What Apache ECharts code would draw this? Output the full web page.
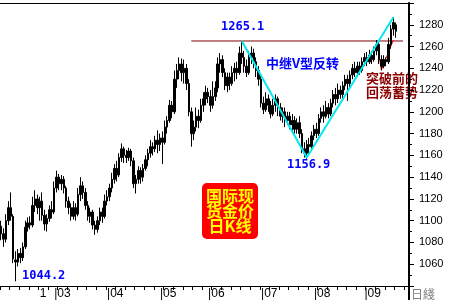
<!DOCTYPE html>
<html><head><meta charset="utf-8">
<script src="https://cdn.jsdelivr.net/npm/echarts@6/dist/echarts.min.js"></script>
<style>html,body{margin:0;padding:0;background:#fff}#c{width:450px;height:300px}</style>
</head><body><div id="c"></div>
<script>
// [open, close, low, high] daily gold candles
const candles = [
[1095,1088,1082,1100],[1088,1083,1076,1093],[1083,1100,1080,1106],[1100,1112,1096,1118],[1112,1104,1100,1126],
[1104,1065,1061,1106],[1064,1062,1044.2,1072],[1062,1070,1058,1074],[1070,1066,1061,1075],[1066,1076,1063,1080],
[1076,1094,1074,1100],[1094,1098,1090,1103],[1098,1096,1092,1104],[1096,1114,1094,1122],[1114,1120,1108,1128],
[1120,1112,1106,1124],[1112,1118,1100,1122],[1118,1105,1100,1126],[1105,1097,1091,1110],[1097,1102,1090,1106],
[1102,1110,1099,1114],[1110,1108,1102,1118],[1108,1130,1106,1136],[1130,1140,1126,1146],[1140,1134,1128,1143],
[1134,1138,1128,1142],[1138,1130,1125,1141],[1130,1118,1112,1132],[1118,1112,1106,1122],[1112,1104,1100,1116],
[1104,1112,1101,1118],[1112,1106,1100,1116],[1106,1124,1104,1130],[1124,1132,1118,1140],[1132,1126,1120,1136],
[1126,1114,1110,1130],[1114,1104,1100,1118],[1104,1108,1098,1112],[1108,1096,1092,1110],[1096,1092,1087,1100],
[1092,1100,1089,1104],[1100,1108,1096,1112],[1108,1104,1098,1112],[1104,1118,1102,1124],[1118,1122,1114,1128],
[1122,1130,1118,1134],[1130,1138,1126,1144],[1138,1148,1134,1152],[1148,1142,1136,1155],[1142,1158,1140,1162],
[1158,1166,1154,1171],[1166,1160,1153,1168],[1160,1158,1153,1165],[1158,1164,1155,1167],[1164,1155,1150,1166],
[1155,1134,1130,1158],[1134,1138,1125,1142],[1138,1146,1134,1150],[1146,1140,1134,1149],[1140,1148,1136,1152],
[1148,1156,1146,1160],[1156,1162,1150,1166],[1162,1168,1158,1174],[1168,1166,1160,1172],[1166,1174,1163,1178],
[1174,1170,1162,1183],[1170,1176,1164,1180],[1176,1172,1152,1182],[1172,1186,1170,1192],[1186,1192,1180,1196],
[1192,1206,1190,1211],[1206,1200,1194,1210],[1200,1230,1198,1238],[1230,1238,1222,1244],[1238,1244,1230,1250],
[1244,1236,1228,1249],[1236,1240,1226,1248],[1240,1226,1220,1244],[1226,1200,1196,1230],[1200,1180,1168,1204],
[1180,1186,1174,1192],[1186,1196,1182,1204],[1196,1192,1185,1202],[1192,1206,1190,1212],[1206,1212,1200,1218],
[1212,1218,1206,1224],[1218,1214,1208,1222],[1214,1206,1200,1220],[1206,1214,1203,1228],[1214,1222,1210,1228],
[1222,1244,1218,1250],[1244,1248,1236,1254],[1248,1236,1232,1252],[1236,1224,1220,1240],[1224,1232,1218,1236],
[1232,1226,1220,1236],[1226,1236,1224,1242],[1236,1240,1228,1245],[1240,1236,1230,1246],[1236,1254,1234,1260],
[1254,1250,1244,1265.1],[1250,1242,1236,1256],[1242,1236,1232,1248],[1236,1250,1234,1256],[1250,1254,1244,1260],
[1254,1246,1240,1258],[1246,1238,1232,1250],[1238,1230,1224,1242],[1230,1208,1204,1234],[1208,1202,1198,1214],
[1202,1212,1200,1218],[1212,1206,1200,1216],[1206,1198,1194,1210],[1198,1206,1196,1212],[1206,1212,1200,1216],
[1212,1204,1196,1214],[1204,1196,1192,1208],[1196,1200,1190,1204],[1200,1192,1186,1204],[1192,1196,1188,1200],
[1196,1188,1184,1200],[1188,1192,1182,1198],[1192,1184,1180,1196],[1184,1190,1180,1194],[1190,1180,1176,1196],
[1180,1166,1162,1184],[1166,1162,1158,1172],[1162,1170,1156.9,1174],[1170,1168,1162,1176],[1168,1178,1164,1182],
[1178,1184,1174,1188],[1184,1180,1176,1190],[1180,1194,1178,1198],[1194,1200,1190,1204],[1200,1196,1190,1206],
[1196,1204,1194,1210],[1204,1198,1194,1208],[1198,1208,1196,1212],[1208,1216,1204,1220],[1216,1212,1206,1222],
[1212,1220,1208,1226],[1220,1216,1212,1224],[1216,1224,1210,1228],[1224,1230,1220,1234],[1230,1226,1210,1234],
[1226,1234,1222,1238],[1234,1240,1230,1244],[1240,1236,1232,1246],[1236,1242,1232,1246],[1242,1238,1234,1246],
[1238,1246,1236,1250],[1246,1250,1242,1254],[1250,1246,1242,1255],[1246,1252,1244,1257],[1252,1248,1244,1256],
[1248,1256,1246,1260],[1256,1262,1252,1266],[1262,1248,1244,1264],[1248,1242,1238,1252],[1242,1248,1240,1252],
[1248,1246,1242,1250],[1246,1262,1244,1268],[1262,1276,1258,1280],[1276,1282,1270,1287],[1280,1274,1268,1282]
];
const slotCount = 170;
const monthLabels = {16:'1',22:'|03',44:'|04',66:'|05',86:'|06',108:'|07',130:'|08',151:'|09'};
const yMin = 1040, yMax = 1300, yStep = 20;
const vLine = [[100,1265.1],[127,1158],[163,1287]];
const pullbackLine = [[156,1266],[158,1238.4],[163,1266]];
const resistLine = [[79,1265.1],[167,1265.1]];
const peakLabel = '1265.1', lowLabel = '1156.9', startLowLabel = '1044.2';

const cats = Array.from({length: slotCount}, (_, i) => String(i));
const chart = echarts.init(document.getElementById('c'), null, {renderer: 'canvas'});
const blue = '#0000ff';
chart.setOption({
  animation: false,
  backgroundColor: '#fff',
  grid: {left: 0, right: 41, top: 3, bottom: 14},
  xAxis: [{
    type: 'category', data: cats, boundaryGap: true, position: 'bottom',
    axisLine: {lineStyle: {color: '#000', width: 1}},
    axisTick: {show: true, length: 4, interval: (i) => i % 4 === 0, lineStyle: {color: '#000'}},
    axisLabel: {interval: (i) => monthLabels[i] !== undefined, formatter: (v, i) => monthLabels[i] || '',
      align: 'left', margin: 2, color: '#000', fontSize: 12, fontFamily: 'Liberation Sans'},
    splitLine: {show: false}
  }, {
    type: 'category', data: cats, position: 'top',
    axisLine: {lineStyle: {color: '#000', width: 1}}, axisTick: {show: false}, axisLabel: {show: false}
  }],
  yAxis: {
    type: 'value', position: 'right', min: yMin, max: yMax, interval: yStep,
    axisLine: {show: true, lineStyle: {color: '#000', width: 2}},
    axisTick: {show: true, length: 5, lineStyle: {color: '#000'}},
    minorTick: {show: true, splitNumber: 2, length: 3, lineStyle: {color: '#000'}},
    axisLabel: {margin: 10, color: '#000', fontSize: 11, fontFamily: 'Liberation Sans',
      formatter: (v) => (v === yMin || v === yMax) ? '' : String(v)},
    splitLine: {show: false}
  },
  series: [{
    type: 'candlestick', data: candles, barWidth: 2,
    itemStyle: {color: '#000', color0: '#000', borderColor: '#000', borderColor0: '#000', borderWidth: 1}
  }, {
    type: 'line', data: resistLine, symbol: 'none', lineStyle: {color: '#800000', width: 1}, z: 1
  }, {
    type: 'line', data: vLine, symbol: 'none', lineStyle: {color: '#00e8f0', width: 2}, z: 3
  }, {
    type: 'line', data: pullbackLine, symbol: 'none', lineStyle: {color: '#ff0000', width: 1}, z: 1
  }],
  graphic: [
    {type: 'line', shape: {x1: 409, y1: 286, x2: 409, y2: 300}, style: {stroke: '#000', lineWidth: 2}},
    {type: 'text', x: 221, y: 21, style: {text: peakLabel, fill: blue, font: 'bold 12px "DejaVu Sans Mono"'}},
    {type: 'text', x: 287, y: 159, style: {text: lowLabel, fill: blue, font: 'bold 12px "DejaVu Sans Mono"'}},
    {type: 'text', x: 22, y: 270, style: {text: startLowLabel, fill: blue, font: 'bold 12px "DejaVu Sans Mono"'}},
    {type: 'text', x: 266, y: 57, style: {text: '中继V型反转', fill: blue, font: 'bold 13px "Noto Sans CJK SC"'}},
    {type: 'text', x: 366, y: 71, style: {text: '突破前的\n回荡蓄势', fill: '#8b0000', lineHeight: 14, font: 'bold 13px "Noto Sans CJK SC"'}},
    {type: 'rect', shape: {x: 202, y: 183, width: 56, height: 56, r: 5}, style: {fill: '#ff0000'}},
    {type: 'text', x: 230, y: 188, style: {text: '国际现\n货金价\n日K线', fill: '#ffff00', align: 'center', lineHeight: 15, font: 'bold 16px "Noto Sans CJK SC"'}},
    {type: 'text', x: 411, y: 288, style: {text: '日綫', fill: '#808080', font: '12px "Noto Sans CJK SC"'}}
  ]
});
</script></body></html>
